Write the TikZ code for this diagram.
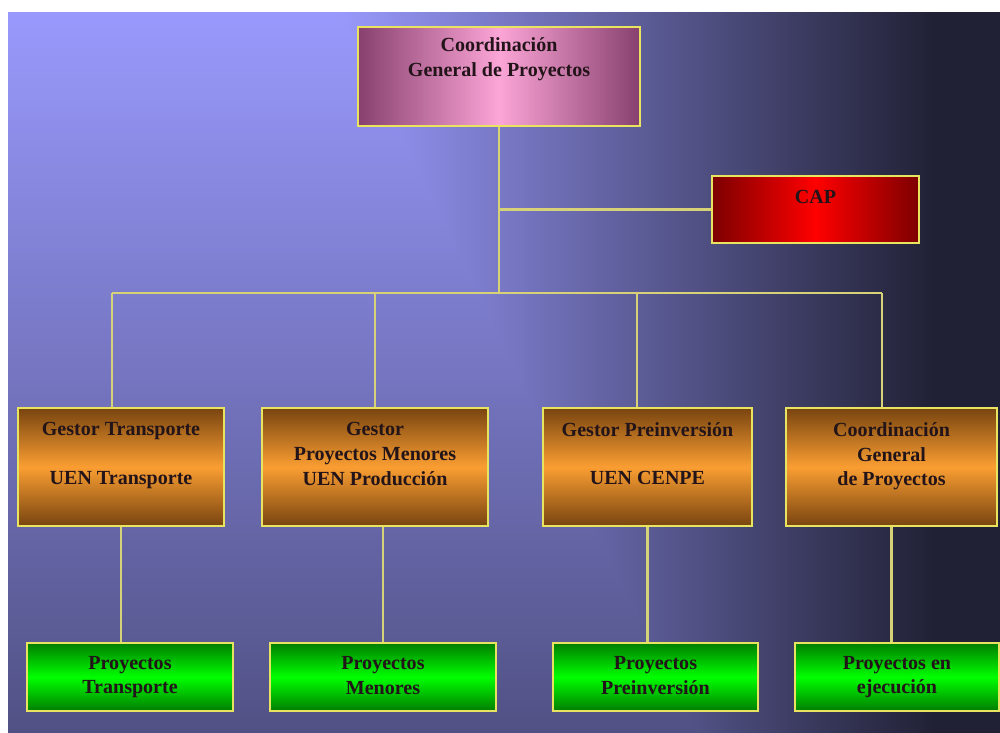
\documentclass[tikz,border=0pt]{standalone}
\usepackage{fontspec}
\setmainfont{Liberation Serif}
\usepackage{tikz}

\definecolor{boxedge}{RGB}{232,228,96}
\definecolor{linkcol}{RGB}{215,210,120}
\definecolor{mauvedark}{RGB}{135,65,110}
\definecolor{mauvelight}{RGB}{252,165,215}
\definecolor{capdark}{RGB}{125,0,0}
\definecolor{capred}{RGB}{255,0,0}
\definecolor{brownedge}{RGB}{120,68,15}
\definecolor{orangemid}{RGB}{250,158,50}
\definecolor{greenedge}{RGB}{0,125,0}
\definecolor{greenmid}{RGB}{0,255,0}
\definecolor{textdark}{RGB}{35,20,25}

% slide background: light lavender top left, dark navy to the right
\pgfdeclarefunctionalshading{slidebg}{\pgfpoint{-50bp}{-50bp}}{\pgfpoint{50bp}{50bp}}{}{
  0.012 mul 0.7 add
  exch -0.0334 mul 0.72 add
  2 copy gt {exch} if pop
  dup 0 lt {pop 0} if
  dup 1 gt {pop 1} if
  dup 0.47 mul 0.13 add
  exch dup 0.47 mul 0.13 add
  exch 0.78 mul 0.21 add
}

\begin{document}
\begin{tikzpicture}[
  x=0.2mm,y=-0.2mm,
  box/.style={draw=boxedge,line width=0.9pt,inner sep=0pt,
    font=\bfseries\fontsize{11.4}{14}\selectfont,text=textdark},
  title/.style={anchor=north,align=center,inner sep=0pt,
    font=\bfseries\fontsize{11.4}{14}\selectfont,text=textdark},
  head/.style={box,left color=mauvedark,right color=mauvedark,
    middle color=mauvelight,minimum width=56.4mm,minimum height=19.8mm},
  capbox/.style={box,left color=capdark,right color=capdark,
    middle color=capred,minimum width=41.4mm,minimum height=13.4mm},
  gestor/.style={box,top color=brownedge,bottom color=brownedge,
    middle color=orangemid,minimum height=23.6mm},
  proj/.style={box,top color=greenedge,bottom color=greenedge,
    middle color=greenmid,minimum height=13.6mm,align=center,
    execute at begin node={\rule{0pt}{12pt}},
    execute at end node={\rule[-2pt]{0pt}{2pt}}},
  link/.style={draw=linkcol,line width=1.4pt}
]
  \useasboundingbox (0,0) rectangle (1000,732);
  \fill[white] (0,0) rectangle (1000,732);
  \shade[shading=slidebg] (8,12) rectangle (1000,732);

  \node[head,label={[title,yshift=-6.5pt]north:{Coordinación\\General de Proyectos}}]
    (top) at (499,76.5) {};
  \node[capbox,label={[title,yshift=-8.4pt]north:CAP}] (cap) at (815.5,209.5) {};

  \node[gestor,minimum width=41.2mm,
    label={[title,yshift=-8.6pt]north:{Gestor Transporte\\[13.5pt]UEN Transporte}}]
    (g1) at (121,467) {};
  \node[gestor,minimum width=45.2mm,
    label={[title,yshift=-8.6pt]north:{Gestor\\Proyectos Menores\\UEN Producción}}]
    (g2) at (375,467) {};
  \node[gestor,minimum width=41.8mm,
    label={[title,yshift=-8.6pt]north:{Gestor Preinversión\\[13.5pt]UEN CENPE}}]
    (g3) at (647.5,467) {};
  \node[gestor,minimum width=42.2mm,
    label={[title,yshift=-8.6pt]north:{Coordinación\\General\\de Proyectos}}]
    (g4) at (891.5,467) {};

  \node[proj,minimum width=41.2mm] (p1) at (130,677) {Proyectos\\Transporte};
  \node[proj,minimum width=45.2mm] (p2) at (383,677) {Proyectos\\Menores};
  \node[proj,minimum width=41mm] (p3) at (655.5,677) {Proyectos\\Preinversión};
  \node[proj,minimum width=40.8mm] (p4) at (897,677) {Proyectos en\\ejecución};

  % bus under the coordination box
  \coordinate (bus) at (499,293);
  \coordinate (d1) at (112,293);
  \coordinate (d2) at (375,293);
  \coordinate (d3) at (637,293);
  \coordinate (d4) at (882,293);

  \draw[link] (top.south) -- (bus);
  \draw[link] (top.south |- cap.west) -- (cap.west);
  \draw[link] (d1) -- (d4);
  \draw[link] (d1) -- (d1 |- g1.north);
  \draw[link] (d2) -- (d2 |- g2.north);
  \draw[link] (d3) -- (d3 |- g3.north);
  \draw[link] (d4) -- (d4 |- g4.north);

  \draw[link] (g1.south) -- (g1.south |- p1.north);
  \draw[link] (p2.north |- g2.south) -- (p2.north);
  \draw[link] (g3.south) -- (g3.south |- p3.north);
  \draw[link] (g4.south) -- (g4.south |- p4.north);
\end{tikzpicture}
\end{document}
